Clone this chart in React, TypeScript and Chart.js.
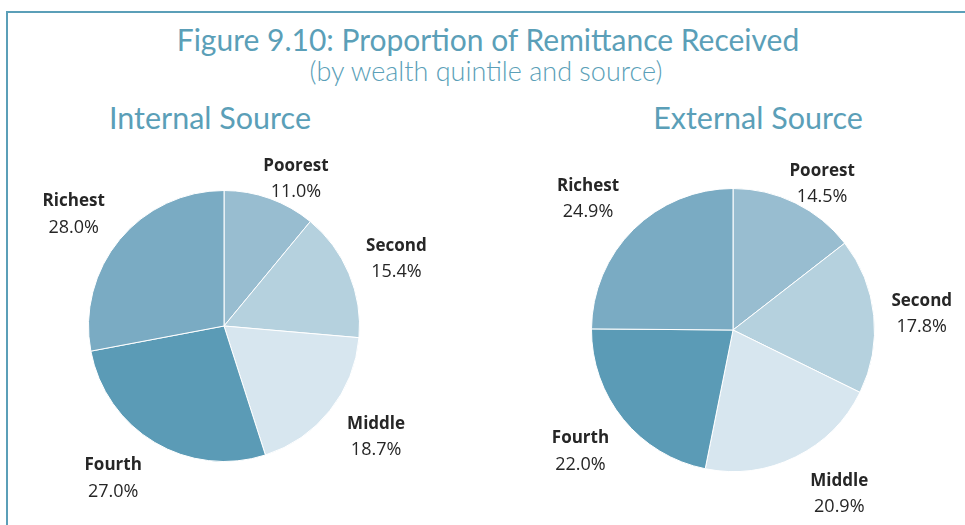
import React, { useEffect, useRef } from "react";
import { Chart, registerables } from "chart.js";

Chart.register(...registerables);

const quintiles = ["Poorest", "Second", "Middle", "Fourth", "Richest"];
const internalShare = [11.0, 15.4, 18.7, 27.0, 28.0];
const externalShare = [14.5, 17.8, 20.9, 22.0, 24.9];
const sliceColors = ["#98BDD0", "#B5D1DE", "#D7E6EF", "#5B9BB6", "#7AABC3"];

const figureTitle = "Figure 9.10: Proportion of Remittance Received";
const figureSubtitle = "(by wealth quintile and source)";
const internalTitle = "Internal Source";
const externalTitle = "External Source";

// label placement tweaks: [angle nudge in degrees, radius factor]
const internalLabelPlace = [[6, 1.22], [1, 1.37], [-3, 1.38], [5.6, 1.38], [-2.6, 1.39]];
const externalLabelPlace = [[5, 1.22], [0.4, 1.34], [-7, 1.37], [1, 1.37], [-2.7, 1.39]];

const TEAL = "#5B9FB8";

const outsideLabels = {
  id: "outsideLabels",
  afterDatasetsDraw(chart: any, _args: any, opts: any) {
    const ctx = chart.ctx;
    const meta = chart.getDatasetMeta(0);
    const data = chart.data.datasets[0].data as number[];
    const place = opts.place as number[][];
    ctx.save();
    ctx.textAlign = "center";
    ctx.textBaseline = "middle";
    meta.data.forEach((arc: any, i: number) => {
      const { x, y, startAngle, endAngle, outerRadius } = arc.getProps(
        ["x", "y", "startAngle", "endAngle", "outerRadius"],
        true
      );
      const mid = (startAngle + endAngle) / 2 + (place[i][0] * Math.PI) / 180;
      const d = outerRadius * place[i][1];
      const lx = x + Math.cos(mid) * d;
      const ly = y + Math.sin(mid) * d;
      ctx.fillStyle = "#262626";
      ctx.font = "bold 17px 'Open Sans', Lato, sans-serif";
      ctx.fillText(chart.data.labels[i], lx, ly - 11);
      ctx.font = "18px 'Open Sans', Lato, sans-serif";
      ctx.fillText(data[i].toFixed(1) + "%", lx, ly + 15);
    });
    ctx.restore();
  },
};

function PieBox(props: {
  values: number[];
  place: number[][];
  left: number;
  top: number;
  width: number;
  height: number;
  padding: { left: number; right: number; top: number; bottom: number };
}) {
  const ref = useRef<HTMLCanvasElement>(null);
  useEffect(() => {
    if (!ref.current) return;
    const chart = new Chart(ref.current, {
      type: "pie",
      data: {
        labels: quintiles,
        datasets: [
          {
            data: props.values,
            backgroundColor: sliceColors,
            borderColor: "#ffffff",
            borderWidth: 1,
          },
        ],
      },
      options: {
        animation: false,
        responsive: false,
        maintainAspectRatio: false,
        layout: { padding: props.padding },
        plugins: {
          legend: { display: false },
          tooltip: { enabled: false },
          title: { display: false },
          outsideLabels: { place: props.place },
        } as any,
      },
      plugins: [outsideLabels],
    });
    return () => chart.destroy();
  }, []);
  return (
    <canvas
      ref={ref}
      width={props.width}
      height={props.height}
      style={{
        position: "absolute",
        left: props.left,
        top: props.top,
        width: props.width,
        height: props.height,
      }}
    />
  );
}

const headStyle: React.CSSProperties = {
  position: "absolute",
  fontFamily: "Lato, 'Open Sans', sans-serif",
  color: TEAL,
  whiteSpace: "nowrap",
  textAlign: "center",
  lineHeight: 1,
};

export default function App() {
  return (
    <div
      style={{
        position: "absolute",
        left: 0,
        top: 0,
        width: 965,
        height: 525,
        background: "#ffffff",
        overflow: "hidden",
      }}
    >
      <div
        style={{
          position: "absolute",
          left: 6,
          top: 11,
          width: 970,
          height: 520,
          borderTop: `2px solid ${TEAL}`,
          borderLeft: `2px solid ${TEAL}`,
        }}
      />
      <div style={{ ...headStyle, left: 0, width: 976, top: 24, fontSize: 30 }}>{figureTitle}</div>
      <div style={{ ...headStyle, left: 0, width: 972, top: 57, fontSize: 27, fontWeight: 300 }}>
        {figureSubtitle}
      </div>
      <div style={{ ...headStyle, left: 60, width: 300, top: 102, fontSize: 30.5 }}>{internalTitle}</div>
      <div style={{ ...headStyle, left: 608, width: 300, top: 102, fontSize: 30.5 }}>{externalTitle}</div>
      <PieBox
        values={internalShare}
        place={internalLabelPlace}
        left={0}
        top={130}
        width={480}
        height={395}
        padding={{ left: 88, right: 120, top: 60, bottom: 63 }}
      />
      <PieBox
        values={externalShare}
        place={externalLabelPlace}
        left={480}
        top={130}
        width={485}
        height={395}
        padding={{ left: 111, right: 90, top: 58, bottom: 53 }}
      />
    </div>
  );
}
